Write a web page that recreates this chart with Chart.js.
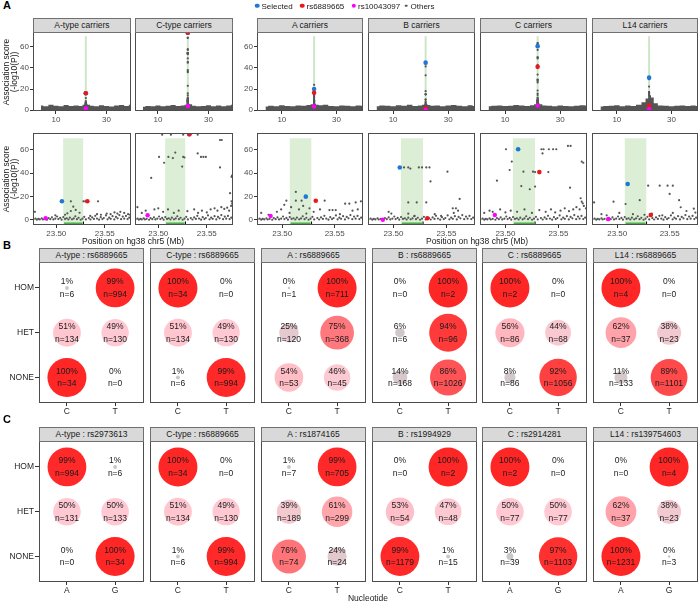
<!DOCTYPE html>
<html>
<head>
<meta charset="utf-8">
<script src="https://cdn.jsdelivr.net/npm/chart.js@4.4.0/dist/chart.umd.min.js"></script>
<style>
body { margin: 0; width: 700px; height: 604px; position: relative; background: #fff; overflow: hidden;
  font-family: "Liberation Sans", Arial, sans-serif; }
canvas { position: absolute; }
.strip { position: absolute; box-sizing: border-box; background: #d9d9d9; border: 1px solid #707070;
  font-size: 8.5px; color: #1a1a1a; text-align: center; line-height: 13px; white-space: nowrap; }
.txt { position: absolute; font-size: 8.5px; color: #1a1a1a; white-space: nowrap; transform: translate(-50%, -50%); }
.dot { position: absolute; border-radius: 50%; transform: translate(-50%, -50%); }
</style>
</head>
<body>
<script>
// ---- data ----
const carrierTitles = ['A-type carriers', 'C-type carriers', 'A carriers', 'B carriers', 'C carriers', 'L14 carriers']
const wideTicks = [10, 30]
const zoomTicks = [23.50, 23.55]
const scoreTicks = [0, 20, 40, 60]
const peakTop = 21.8          // position of the locus on the wide axis
const regionStart = 23.507, regionEnd = 23.528, regionTop = 70
const geneStart = 23.508, geneEnd = 23.527

// outline of the dense band of background SNPs in the wide view
const bandX = [4, 6, 8, 10, 12, 14, 16, 18, 20, 21, 22, 23, 24, 26, 28, 30, 32, 34, 36, 38, 39.7]
const bandAtype = [4.5, 3.8, 5.2, 4.1, 3.6, 4.8, 4.0, 4.4, 3.9, 5.0, 6.0, 5.0, 4.2, 3.7, 4.6, 4.0, 3.5, 4.3, 4.8, 3.9, 5.0]
const bandCtype = [3.2, 4.0, 3.6, 4.5, 3.8, 4.2, 4.9, 3.9, 4.4, 5.0, 6.0, 5.5, 4.1, 3.6, 4.0, 4.6, 3.8, 4.3, 3.7, 4.5, 5.2]
const bandA = [3.5, 4.2, 3.8, 4.6, 4.0, 3.7, 4.4, 4.1, 4.8, 5.5, 6.0, 5.0, 4.6, 5.2, 4.0, 3.8, 4.3, 4.1, 3.6, 4.5, 4.2]
const bandB = [3.8, 4.4, 4.1, 3.6, 4.7, 4.2, 5.0, 3.9, 4.3, 5.0, 5.5, 4.8, 4.2, 4.5, 3.8, 4.4, 4.9, 4.1, 3.7, 4.6, 4.0]
const bandC = [3.6, 4.1, 4.5, 3.9, 4.2, 4.8, 4.3, 4.0, 4.6, 5.5, 6.5, 5.5, 4.4, 4.1, 3.8, 4.5, 4.0, 3.7, 4.2, 4.6, 4.4]
const bandL14 = [3.4, 3.9, 4.2, 4.6, 3.8, 4.3, 4.0, 5.0, 7.5, 11, 14, 12, 6.5, 4.4, 4.1, 3.8, 4.2, 4.5, 3.9, 4.3, 4.0]

// low background SNPs in the zoomed window (shared look)
const lowSnps = [[23.4765,0.6],[23.4785,1.2],[23.4800,0.3],[23.4815,0.9],[23.4830,0.5],[23.4850,1.4],[23.4862,0.4],[23.4880,1.0],
  [23.4905,0.2],[23.4920,1.6],[23.4938,0.7],[23.4955,2.3],[23.4970,0.5],[23.4990,1.1],[23.5008,3.0],[23.5021,0.8],[23.5040,1.8],
  [23.5055,0.3],[23.5072,2.5],[23.5090,0.9],[23.5108,1.5],[23.5125,0.4],[23.5140,2.0],[23.5162,0.6],[23.5180,1.3],[23.5196,3.2],
  [23.5213,0.7],[23.5230,1.9],[23.5251,0.2],[23.5270,1.1],[23.5288,2.7],[23.5305,0.5],[23.5335,1.6],[23.5352,0.4],[23.5370,2.2],
  [23.5388,0.9],[23.5402,3.6],[23.5420,1.2],[23.5441,0.3],[23.5458,2.4],[23.5475,0.8],[23.5490,1.7],[23.5512,3.9],[23.5528,0.6],
  [23.5545,2.0],[23.5561,1.0],[23.5580,3.3],[23.5598,0.5],[23.5615,2.6],[23.5632,1.4],[23.5650,4.2],[23.5668,0.7],[23.5685,2.9],
  [23.5700,1.1],[23.5718,3.5],[23.5735,0.8],[23.5752,2.1],[23.5768,1.3]]

const othersAtype = [[23.5150,16],[23.5280,16],[23.5298,16],[23.5430,16],[23.5175,11.4],[23.5150,7.7],[23.5200,8.6],[23.5114,5.7],
  [23.5240,6.2],[23.5090,4.5],[23.4780,7],[23.4990,4],[23.5350,3.5],[23.5420,5],[23.5460,4.5],[23.5520,5.5],[23.5560,5],[23.5600,6.5],
  [23.5630,5.5],[23.5660,7],[23.5700,6],[23.5740,5],[23.5760,4.5]]
const othersCtype = [[23.5040,73],[23.5130,73],[23.5257,73],[23.5406,73],[23.5636,68.5],[23.5654,68.5],[23.5175,57.7],[23.5104,54],
  [23.5150,53],[23.5008,54],[23.5060,49],[23.5246,45.7],[23.5257,54],[23.5270,53.5],[23.5440,54],[23.5465,54],[23.5490,54],[23.5406,57],
  [23.5636,45],[23.5760,38],[23.5755,37],[23.5740,23],[23.5755,16],[23.5762,14],[23.4927,36],[23.4785,11],[23.4830,6],[23.4870,8],
  [23.4960,9],[23.5000,10],[23.5050,7],[23.5100,9],[23.5160,6],[23.5210,8],[23.5300,7.5],[23.5370,9],[23.5410,6],[23.5450,8],
  [23.5500,6.5],[23.5540,9],[23.5580,10],[23.5610,8],[23.5650,11],[23.5680,9.5],[23.5710,10.5],[23.5730,8],[23.5750,12],[23.5770,9]]
const othersA = [[23.5040,16.5],[23.5130,16.5],[23.5185,16.5],[23.5405,16.5],[23.5130,24],[23.5020,13],[23.5085,11],[23.5200,12],
  [23.5160,9],[23.5260,10],[23.4990,9],[23.4950,7],[23.5070,6],[23.5300,7],[23.5360,9],[23.5450,8.5],[23.5480,8.5],[23.5510,8.5],
  [23.5600,14],[23.5640,14],[23.5700,15],[23.5750,16],[23.5670,8],[23.5720,9],[23.4800,6],[23.4870,4.5],[23.5550,5],[23.5230,5.5]]
const othersB = [[23.5100,45],[23.5140,45],[23.5160,44],[23.5240,45],[23.5270,45],[23.5310,45],[23.5340,45],[23.5510,41.4],[23.5350,33],
  [23.5140,15],[23.5220,15],[23.5310,15],[23.5625,18],[23.5560,10],[23.5590,10],[23.5610,8],[23.5140,5.4],[23.5390,5],[23.4955,7],
  [23.4980,5.5],[23.5570,6],[23.5200,3.5],[23.5450,3.5]]
const othersC = [[23.5005,60.6],[23.5340,60.6],[23.5360,60.6],[23.5410,60.6],[23.5450,60.6],[23.5480,60.6],[23.5590,63.4],[23.5615,63.4],
  [23.5350,57],[23.5060,50],[23.5040,42.8],[23.5170,41.4],[23.5260,41.4],[23.5280,41],[23.5405,41],[23.4920,33.7],[23.5150,29],
  [23.5230,26.3],[23.5280,28.6],[23.5610,27.7],[23.5720,50],[23.5735,49],[23.5710,18.6],[23.5720,15.7],[23.5730,14.3],[23.5740,12],
  [23.4800,6],[23.4850,8],[23.4880,7],[23.4950,9],[23.5000,6.5],[23.5050,8],[23.5110,7],[23.5180,9],[23.5250,6],[23.5320,8.5],
  [23.5380,7],[23.5430,9],[23.5470,6.5],[23.5520,8],[23.5560,10],[23.5600,7.5],[23.5640,9],[23.5670,11],[23.5700,9],[23.5760,10]]
const othersL14 = [[23.5295,29.4],[23.5405,29.4],[23.5480,29.4],[23.5530,29.4],[23.5500,22.3],[23.5215,17],[23.5080,13.7],[23.4965,15.7],
  [23.4780,15],[23.5590,17],[23.5605,10.9],[23.5660,7.7],[23.5730,9.7],[23.5745,6.3],[23.5020,6],[23.5150,5],[23.5260,4.5],[23.5330,5.5],
  [23.5430,4],[23.5530,6],[23.4900,4],[23.4850,5]]

const selectedSnp = [[23.5058,16],[23.532,73.4],[23.5225,20],[23.506,45],[23.512,60.6],[23.510,30.8]]
const rs6889665 = [[23.532,16],[23.532,73.4],[23.532,16.5],[23.532,1.5],[23.532,41],[23.532,4.3]]
const rs10043097 = [[23.489,1.5],[23.489,4],[23.489,3.5],[23.490,0.2],[23.490,4.3],[23.4915,0.8]]

const bands = [bandAtype, bandCtype, bandA, bandB, bandC, bandL14]
const others = [othersAtype, othersCtype, othersA, othersB, othersC, othersL14]

// genotype panels: rows HOM, HET, NONE; two alleles each
const rowLevels = ['HOM', 'HET', 'NONE']
const bTitles = ['A-type : rs6889665', 'C-type : rs6889665', 'A : rs6889665', 'B : rs6889665', 'C : rs6889665', 'L14 : rs6889665']
const bAlleles = [['C','T'], ['C','T'], ['C','T'], ['C','T'], ['C','T'], ['C','T']]
const bPct = [[[1,99],[51,49],[100,0]], [[100,0],[51,49],[1,99]], [[0,100],[25,75],[54,46]],
  [[0,100],[6,94],[14,86]], [[100,0],[56,44],[8,92]], [[100,0],[62,38],[11,89]]]
const bN = [[[6,994],[134,130],[34,0]], [[34,0],[134,130],[6,994]], [[1,711],[120,368],[53,45]],
  [[0,2],[6,96],[168,1026]], [[2,0],[86,68],[86,1056]], [[4,0],[37,23],[133,1101]]]

const cTitles = ['A-type : rs2973613', 'C-type : rs6889665', 'A : rs1874165', 'B : rs1994929', 'C : rs2914281', 'L14 : rs139754603']
const cAlleles = [['A','G'], ['C','T'], ['C','T'], ['C','T'], ['A','G'], ['A','G']]
const cPct = [[[99,1],[50,50],[0,100]], [[100,0],[51,49],[1,99]], [[1,99],[39,61],[76,24]],
  [[0,100],[53,47],[99,1]], [[100,0],[50,50],[3,97]], [[0,100],[62,38],[100,0]]]
const cN = [[[994,6],[131,133],[0,34]], [[34,0],[134,130],[6,994]], [[7,705],[189,299],[74,24]],
  [[0,2],[54,48],[1179,15]], [[2,0],[77,77],[39,1103]], [[0,4],[37,23],[1231,3]]]

// ---- layout & style ----
const FONT = '"Liberation Sans", Arial, sans-serif'
const panelX = [[33, 98], [135, 98], [257, 106], [368, 107], [480, 107], [592, 106]]
const wideRow = [32, 79], zoomRow = [133, 92]
const bubbleLeft = [39, 150, 261, 372, 482, 593], bubbleW = 105, bubbleH = 141
const BLUE = '#1f78d4', RED = '#e8191b', MAG = '#f0f', GREY = '#555'

function place(l, t, w, h) {
    let c = document.createElement('canvas')
    c.width = w; c.height = h
    c.style.left = l + 'px'; c.style.top = t + 'px'
    c.style.width = w + 'px'; c.style.height = h + 'px'
    document.body.appendChild(c)
    return c
}
function text(s, cx, cy, css) {
    let d = document.createElement('div')
    d.className = 'txt'
    d.textContent = s
    d.style.left = cx + 'px'; d.style.top = cy + 'px'
    if (css) Object.assign(d.style, css)
    document.body.appendChild(d)
    return d
}
function strip(l, t, w, s) {
    let d = document.createElement('div')
    d.className = 'strip'
    d.textContent = s
    Object.assign(d.style, {left: l + 'px', top: t + 'px', width: w + 'px', height: '15px'})
    document.body.appendChild(d)
}

const framePlugin = {
    id: 'frame',
    afterDatasetsDraw(chart) {
        let a = chart.chartArea, ctx = chart.ctx
        ctx.save()
        ctx.strokeStyle = '#4d4d4d'
        ctx.lineWidth = 1
        ctx.strokeRect(a.left + 0.5, a.top + 0.5, a.right - a.left - 1, a.bottom - a.top - 1)
        ctx.restore()
    }
}

function axis(min, max, ticks, show, size, fmt, tickLen, fontSize, color) {
    return {
        type: 'linear', min: min, max: max, display: show,
        afterBuildTicks: s => { s.ticks = ticks.map(v => ({value: v})) },
        afterFit: s => {
            if (s.isHorizontal()) s.height = size; else s.width = size
            s.paddingTop = s.paddingBottom = s.paddingLeft = s.paddingRight = 0
        },
        grid: {display: true, drawOnChartArea: false, drawTicks: true, tickLength: tickLen, tickColor: '#333', color: '#333'},
        border: {display: false},
        ticks: {padding: 1, color: color, font: {size: fontSize, family: FONT}, callback: fmt, maxRotation: 0, autoSkip: false}
    }
}

const baseOptions = {
    responsive: false, animation: false, events: [],
    layout: {padding: 0, autoPadding: false},
    plugins: {legend: {display: false}, tooltip: {enabled: false}}
}

function pts(arr, xFix) { return arr.map(p => ({x: xFix === undefined ? p[0] : xFix, y: p[1]})) }

function scatterPanel(i, wide) {
    let [l, w] = panelX[i]
    let [t, h] = wide ? wideRow : zoomRow
    let showY = i === 0 || i === 2
    let yw = showY ? 23 : 0, xh = 13
    let cv = place(l - yw, t, w + yw, h + xh)
    let xf = wide ? peakTop : undefined
    let ds = [
        {data: pts([rs10043097[i]], xf), backgroundColor: MAG, pointRadius: 2.2, borderWidth: 0, pointBorderWidth: 0},
        {data: pts([rs6889665[i]], xf), backgroundColor: RED, pointRadius: 2.3, borderWidth: 0, pointBorderWidth: 0},
        {data: pts([selectedSnp[i]], xf), backgroundColor: BLUE, pointRadius: 2.3, borderWidth: 0, pointBorderWidth: 0}
    ]
    if (wide) {
        ds.push({data: pts(others[i], xf), backgroundColor: GREY, pointRadius: 1.1, borderWidth: 0, pointBorderWidth: 0})
        ds.push({type: 'line', data: bandX.map((x, k) => ({x: x, y: bands[i][k]})), stepped: 'middle', fill: 'start',
            backgroundColor: '#555', borderWidth: 0, pointRadius: 0})
        ds.push({type: 'line', data: [{x: peakTop, y: 0}, {x: peakTop, y: regionTop}], borderColor: '#cde6c8', borderWidth: 2, pointRadius: 0})
    } else {
        ds.push({type: 'line', data: [{x: regionEnd, y: -4.3}, {x: regionEnd, y: -1.3}], borderColor: '#000', borderWidth: 1, pointRadius: 0})
        ds.push({type: 'line', data: [{x: geneStart, y: -3.2}, {x: geneEnd, y: -3.2}], borderColor: '#4caf4a', borderWidth: 2.5, pointRadius: 0})
        ds.push({data: pts(others[i].concat(lowSnps)), backgroundColor: GREY, pointRadius: 1.1, borderWidth: 0, pointBorderWidth: 0})
        ds.push({type: 'line', data: [{x: regionStart, y: regionTop}, {x: regionEnd, y: regionTop}], fill: 'start',
            backgroundColor: '#dcefd6', borderWidth: 0, pointRadius: 0})
    }
    new Chart(cv, {
        type: 'scatter',
        data: {datasets: ds},
        options: Object.assign({}, baseOptions, {
            scales: {
                x: wide ? axis(0.9, 39.7, wideTicks, true, xh, v => v, 3, 8, '#4d4d4d')
                        : axis(23.476, 23.577, zoomTicks, true, xh, v => v.toFixed(2), 3, 8, '#4d4d4d'),
                y: wide ? axis(-0.8, 74, scoreTicks, showY, yw, v => v, 3, 8, '#4d4d4d')
                        : axis(-4.3, 74.5, scoreTicks, showY, yw, v => v, 3, 8, '#4d4d4d')
            }
        }),
        plugins: [framePlugin]
    })
    if (wide) strip(l, t - 14, w, carrierTitles[i])
}

function pctColor(p) {
    let lo = [190, 190, 190], mid = [255, 192, 203], hi = [255, 0, 0]
    let a = p <= 50 ? lo : mid, b = p <= 50 ? mid : hi
    let f = p <= 50 ? p / 50 : (p - 50) / 50
    let c = a.map((v, k) => Math.round(v + (b[k] - v) * f))
    return 'rgba(' + c.join(',') + ',0.85)'
}
function bubbleR(p, n) {
    if (n === 0) return 0
    return Math.max(1.2, 19.5 * Math.sqrt(p / 100))
}

function bubblePanel(i, top, titles, alleles, pct, ns) {
    let l = bubbleLeft[i]
    let yw = i === 0 ? 39 : 0, xh = 14
    let cv = place(l - yw, top, bubbleW + yw, bubbleH + xh)
    let cells = []
    rowLevels.forEach((lev, r) => {
        alleles[i].forEach((a, c) => cells.push({x: c + 1, y: 3 - r, p: pct[i][r][c], n: ns[i][r][c]}))
    })
    let labelPlugin = {
        id: 'cellText',
        afterDatasetsDraw(chart) {
            let ctx = chart.ctx, sx = chart.scales.x, sy = chart.scales.y
            ctx.save()
            ctx.font = '8.5px ' + FONT
            ctx.fillStyle = '#1a1a1a'
            ctx.textAlign = 'center'
            ctx.textBaseline = 'middle'
            cells.forEach(c => {
                let px = sx.getPixelForValue(c.x), py = sy.getPixelForValue(c.y)
                ctx.fillText(c.p + '%', px, py - 6)
                ctx.fillText('n=' + c.n, px, py + 6.5)
            })
            ctx.restore()
        }
    }
    new Chart(cv, {
        type: 'bubble',
        data: {datasets: [{
            data: cells.map(c => ({x: c.x, y: c.y, r: bubbleR(c.p, c.n)})),
            backgroundColor: cells.map(c => pctColor(c.p)),
            borderWidth: 0
        }]},
        options: Object.assign({}, baseOptions, {
            scales: {
                x: axis(0.42, 2.6, [1, 2], true, xh, v => alleles[i][v - 1], 3, 8.5, '#262626'),
                y: axis(0.43, 3.58, [1, 2, 3], i === 0, yw, v => rowLevels[3 - v], 4, 8.5, '#262626')
            }
        }),
        plugins: [framePlugin, labelPlugin]
    })
    strip(l, top - 14, bubbleW, titles[i])
}

document.addEventListener('DOMContentLoaded', function() {
    for (let i = 0; i < 6; i++) scatterPanel(i, true)
    for (let i = 0; i < 6; i++) scatterPanel(i, false)
    for (let i = 0; i < 6; i++) bubblePanel(i, 262, bTitles, bAlleles, bPct, bN)
    for (let i = 0; i < 6; i++) bubblePanel(i, 441, cTitles, cAlleles, cPct, cN)

    // panel letters
    text('A', 7, 5, {fontSize: '11px', fontWeight: 'bold', color: '#000'})
    text('B', 7, 245, {fontSize: '11px', fontWeight: 'bold', color: '#000'})
    text('C', 7, 419, {fontSize: '11px', fontWeight: 'bold', color: '#000'})

    // legend
    let legend = [['Selected', BLUE, 257, 4.6], ['rs6889665', RED, 302, 4.6], ['rs10043097', MAG, 353.5, 4.4], ['Others', GREY, 406, 2.6]]
    legend.forEach(([s, col, x, d]) => {
        let dot = document.createElement('div')
        dot.className = 'dot'
        Object.assign(dot.style, {left: x + 'px', top: '5.5px', width: d + 'px', height: d + 'px', background: col})
        document.body.appendChild(dot)
        let t = text(s, x + 4.5, 5.5, {fontSize: '8px'})
        t.style.transform = 'translate(0, -50%)'
    })

    // axis titles
    let yTitle = '<div>Association score</div><div>(-log10(P))</div>'
    ;[71.5, 179].forEach(cy => {
        let d = text('', 10.5, cy, {fontSize: '8.5px', lineHeight: '7.8px', textAlign: 'center', transform: 'translate(-50%, -50%) rotate(-90deg)'})
        d.innerHTML = yTitle
    })
    text('Position on hg38 chr5 (Mb)', 133, 240.5)
    text('Position on hg38 chr5 (Mb)', 477, 240.5)
    text('Nucleotide', 368, 598)
})
</script>
</body>
</html>
